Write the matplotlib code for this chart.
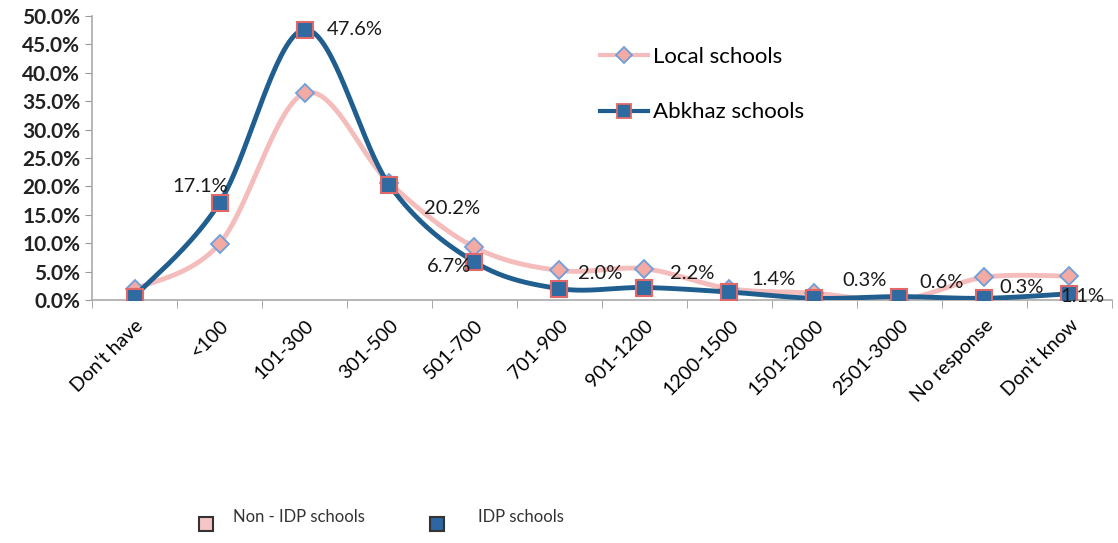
import numpy as np
import matplotlib.pyplot as plt
from matplotlib.ticker import FixedLocator, PercentFormatter
from matplotlib.lines import Line2D
from matplotlib.patches import Rectangle

plt.rcParams['font.family'] = ['Lato', 'DejaVu Sans']

categories = ["Don't have", "<100", "101-300", "301-500", "501-700", "701-900",
              "901-1200", "1200-1500", "1501-2000", "2501-3000", "No response",
              "Don't know"]
local = [1.9, 9.9, 36.4, 20.6, 9.3, 5.2, 5.5, 2.0, 1.2, 0.0, 4.0, 4.2]
abkhaz = [0.6, 17.1, 47.6, 20.2, 6.7, 2.0, 2.2, 1.4, 0.3, 0.6, 0.3, 1.1]
labels = ["", "17.1%", "47.6%", "20.2%", "6.7%", "2.0%", "2.2%", "1.4%",
          "0.3%", "0.6%", "0.3%", "1.1%"]
# label offsets in points (dx, dy)
offsets = [(0, 0), (-14, 12), (36, 0), (45, -17), (-18, -3), (29, 11),
           (34, 10), (32, 9), (36, 13), (30, 10), (27, 8), (9, -2)]


def smooth(y, n=40):
    # catmull-rom style bezier, similar to excel's smoothed lines
    y = np.asarray(y, float)
    x = np.arange(len(y), dtype=float)
    xs, ys = [], []
    for i in range(len(y) - 1):
        p0 = max(i - 1, 0)
        p3 = min(i + 2, len(y) - 1)
        c1x = x[i] + (x[i + 1] - x[p0]) / 6
        c1y = y[i] + (y[i + 1] - y[p0]) / 6
        c2x = x[i + 1] - (x[p3] - x[i]) / 6
        c2y = y[i + 1] - (y[p3] - y[i]) / 6
        t = np.linspace(0, 1, n)
        a, b, c, d = (1 - t) ** 3, 3 * t * (1 - t) ** 2, 3 * t ** 2 * (1 - t), t ** 3
        xs.append(a * x[i] + b * c1x + c * c2x + d * x[i + 1])
        ys.append(a * y[i] + b * c1y + c * c2y + d * y[i + 1])
    return np.concatenate(xs), np.concatenate(ys)


fig = plt.figure(figsize=(11.18, 5.43), dpi=100)
ax = fig.add_axes([0.0823, 0.4475, 0.9123, 0.523])

x = np.arange(len(categories))
pink_line = "#f5bcbc"
blue_line = "#1f5e8e"

sx, sy = smooth(local)
ax.plot(sx, sy, color=pink_line, lw=3.5, zorder=2)
ax.plot(x, local, ls="none", marker="D", ms=9, mfc="#f2aaa2", mec="#6e9edc",
        mew=1.3, zorder=3)

sx, sy = smooth(abkhaz)
ax.plot(sx, sy, color=blue_line, lw=3.5, zorder=4)
ax.plot(x, abkhaz, ls="none", marker="s", ms=12, mfc="#2f6aa0", mec="#e06868",
        mew=1.5, zorder=5)

for xi, yi, lab, (dx, dy) in zip(x, abkhaz, labels, offsets):
    if lab:
        ax.annotate(lab, (xi, yi), xytext=(dx, dy), textcoords="offset points",
                    ha="center", va="center", fontsize=14.5, color="#1a1a1a",
                    zorder=6, annotation_clip=False)

ax.set_xlim(-0.5, len(categories) - 0.5)
ax.set_ylim(0, 50)
ax.yaxis.set_major_locator(FixedLocator(np.arange(0, 50.1, 5)))
ax.yaxis.set_major_formatter(PercentFormatter(decimals=1))
ax.set_xticks(x)
ax.set_xticklabels(categories, rotation=45, ha="right", rotation_mode="anchor",
                   fontsize=14)
ax.xaxis.set_minor_locator(FixedLocator(np.arange(-0.5, len(categories), 1)))
ax.tick_params(axis="x", which="major", length=0, pad=12)
ax.tick_params(axis="x", which="minor", length=6, color="#999999")
ax.tick_params(axis="y", length=5, color="#999999", labelsize=15)
for lab in ax.get_yticklabels():
    lab.set_fontweight("bold")
    lab.set_color("#222222")
for s in ["top", "right"]:
    ax.spines[s].set_visible(False)
for s in ["left", "bottom"]:
    ax.spines[s].set_color("#aaaaaa")
    ax.spines[s].set_linewidth(1.2)

handles = [
    Line2D([], [], color=pink_line, lw=3, marker="D", ms=8, mfc="#f2aaa2",
           mec="#6e9edc", mew=1.3),
    Line2D([], [], color=blue_line, lw=3, marker="s", ms=10, mfc="#2f6aa0",
           mec="#e06868", mew=1.3),
]
ax.legend(handles, ["Local schools", "Abkhaz schools"], loc="upper left",
          bbox_to_anchor=(0.478, 0.962), frameon=False, fontsize=16,
          labelspacing=1.6, handlelength=2.2, handletextpad=0.2)

# bottom legend boxes
fig.patches.append(Rectangle((0.178, 0.022), 0.0125, 0.0258, facecolor="#f4c6c6",
                             edgecolor="#333333", lw=1.5,
                             transform=fig.transFigure, figure=fig))
fig.patches.append(Rectangle((0.3846, 0.022), 0.0125, 0.0258, facecolor="#2d66a2",
                             edgecolor="#333333", lw=1.5,
                             transform=fig.transFigure, figure=fig))
fig.text(0.2084, 0.048, "Non - IDP schools", fontsize=12, color="#333333",
         va="center")
fig.text(0.4275, 0.048, "IDP schools", fontsize=12, color="#333333",
         va="center")

fig.savefig("out.png", dpi=100)
